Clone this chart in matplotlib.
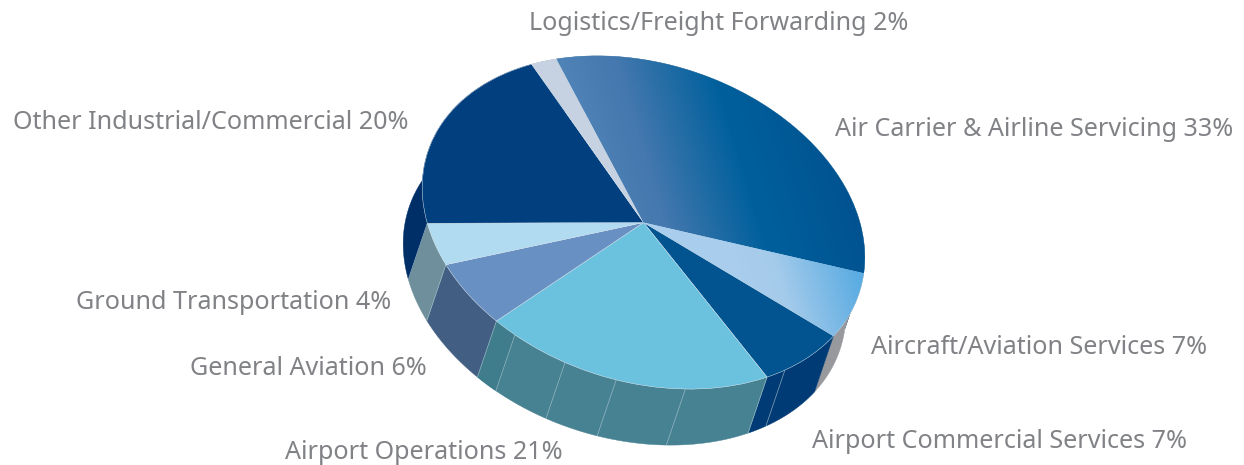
import matplotlib
matplotlib.use('Agg')
import matplotlib.pyplot as plt
from matplotlib.colors import LinearSegmentedColormap
from matplotlib.transforms import Affine2D
import numpy as np

# categories and shares, clockwise from the top
categories = ['Air Carrier & Airline Servicing', 'Aircraft/Aviation Services',
              'Airport Commercial Services', 'Airport Operations',
              'General Aviation', 'Ground Transportation',
              'Other Industrial/Commercial', 'Logistics/Freight Forwarding']
values = [33, 7, 7, 21, 6, 4, 20, 2]

top_colors = ['#00609c', '#a9cdec', '#01548f', '#6bc2df',
              '#6990c2', '#b0dbf0', '#013f7e', '#c6d2e2']
side_colors = ['#004a85', '#98999d', '#003b75', '#478293',
               '#425e83', '#6e8f9b', '#002f68', '#8a97a8']

# where the thin facet lines sit on the rim, in percent
facet_pcts = [45.4, 53.4, 58.4, 62.2, 66.3]

label_pos = [(835, 129), (871, 347), (812, 441), (285, 452),
             (190, 368), (76, 302), (13, 122), (529, 23)]

# pie plane -> picture pixels
center = (643.5, 222.5)
vec_x = (203.5, -32)
vec_y = (-87, -163.5)
depth = (-19, 56)

plt.rcParams['font.family'] = 'Noto Sans'
fig = plt.figure(figsize=(12.44, 4.65), dpi=100)
ax = fig.add_axes([0, 0, 1, 1])

wedges, _ = ax.pie(values, startangle=90, counterclock=False, radius=1,
                   colors=top_colors,
                   wedgeprops=dict(edgecolor='#d5e2ec', linewidth=0.3, zorder=3))
ax.set_aspect('auto')
ax.set_xlim(0, 1244)
ax.set_ylim(465, 0)
ax.axis('off')

plane = Affine2D.from_values(vec_x[0], vec_x[1], vec_y[0], vec_y[1], center[0], center[1])
for w in wedges:
    w.set_transform(plane + ax.transData)


def rim(pct):
    t = np.radians(np.asarray(pct) * 3.6)
    return (center[0] + np.sin(t) * vec_x[0] + np.cos(t) * vec_y[0],
            center[1] + np.sin(t) * vec_x[1] + np.cos(t) * vec_y[1])


# side walls
cum = np.concatenate([[0], np.cumsum(values)])
for i in range(len(values)):
    p = np.linspace(cum[i], cum[i + 1], 60)
    x, y = rim(p)
    ax.fill(np.r_[x, x[::-1] + depth[0]], np.r_[y, y[::-1] + depth[1]],
            color=side_colors[i], lw=0.3, zorder=1)

# slightly darker facet at the left end of the operations wall
p = np.linspace(facet_pcts[4], cum[4], 20)
x, y = rim(p)
ax.fill(np.r_[x, x[::-1] + depth[0]], np.r_[y, y[::-1] + depth[1]],
        color='#3f7d8c', lw=0.2, zorder=1)

for pct in facet_pcts + list(cum[3:7]):
    x, y = rim(pct)
    ax.plot([x, x + depth[0]], [y, y + depth[1]], color='#a9c4cd', lw=0.5,
            alpha=0.8, zorder=2)

# gradient fills on the two lit slices
X, Y = np.meshgrid(np.arange(520, 880), np.arange(40, 350))
g = X - 0.3 * Y
cmap1 = LinearSegmentedColormap.from_list('c1', [(0, '#5285b8'), (0.25, '#4478ae'),
                                                 (0.6, '#00609c'), (1, '#00528f')])
im = ax.imshow((g - 530) / 270, extent=(520, 880, 350, 40), cmap=cmap1, vmin=0, vmax=1,
               aspect='auto', zorder=3.5)
im.set_clip_path(wedges[0])
cmap2 = LinearSegmentedColormap.from_list('c2', [(0, '#a9cdec'), (0.3, '#a5cbeb'), (1, '#5bace2')])
im = ax.imshow((g - 660) / 115, extent=(520, 880, 350, 40), cmap=cmap2, vmin=0, vmax=1,
               aspect='auto', zorder=3.5)
im.set_clip_path(wedges[1])
ax.set_xlim(0, 1244)
ax.set_ylim(465, 0)

for name, val, (lx, ly) in zip(categories, values, label_pos):
    ax.text(lx, ly, f'{name} {val}%', ha='left', va='center', fontsize=18.1, color='#808285')

fig.savefig('out.png', dpi=100)
